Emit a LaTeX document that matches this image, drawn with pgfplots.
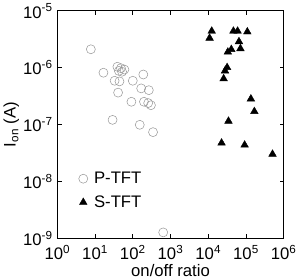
\documentclass[border=0pt]{standalone}
\usepackage{pgfplots}
\pgfplotsset{compat=1.18}
\usepackage{fontspec}
\setmainfont{Liberation Sans}
\begin{document}
\begin{tikzpicture}
\begin{axis}[
  scale only axis,
  width=216bp, height=217bp,
  xmode=log, ymode=log,
  xmin=1, xmax=1e6, ymin=1e-9, ymax=1e-5,
  axis line style={line width=1.1pt},
  tick style={line width=0.9pt, black},
  major tick length=4bp,
  minor tick num=0,
  xminorticks=false, yminorticks=false,
  xtick={1,10,100,1000,10000,100000,1000000},
  xticklabels={10\textsuperscript{0},10\textsuperscript{1},10\textsuperscript{2},10\textsuperscript{3},10\textsuperscript{4},10\textsuperscript{5},10\textsuperscript{6}},
  ytick={1e-9,1e-8,1e-7,1e-6,1e-5},
  yticklabels={10\textsuperscript{-9},10\textsuperscript{-8},10\textsuperscript{-7},10\textsuperscript{-6},10\textsuperscript{-5}},
  tick label style={font=\fontsize{16}{18}\selectfont},
  xticklabel style={yshift=-3bp},
  yticklabel style={xshift=-1bp},
  label style={font=\fontsize{16}{18}\selectfont},
  xlabel={on/off ratio},
  xlabel style={yshift=3bp},
  ylabel={I\textsubscript{on} (A)},
  ylabel style={yshift=-3bp},
  legend style={draw=none, fill=none, at={(0.08,0.31)}, anchor=north west, font=\fontsize{16}{18}\selectfont, row sep=6bp, nodes={inner xsep=6bp}},
  legend cell align=left,
]
\addplot[only marks, mark=o, mark size=4.3bp, gray!80, mark options={line width=0.5pt}] coordinates {
(7.74,2.11e-6) (16.7,8.17e-7) (39.1,1.04e-6) (48.5,9.82e-7) (60.0,9.29e-7) (42.8,8.79e-7)
(33.0,5.90e-7) (44.4,5.75e-7) (40.8,3.65e-7) (100,5.90e-7) (190,7.60e-7) (167,4.33e-7)
(266,4.03e-7) (92.0,2.52e-7) (198,2.52e-7) (256,2.39e-7) (303,2.19e-7) (29.1,1.21e-7)
(153,9.91e-8) (344,7.36e-8) (640,1.27e-9) (52,8.5e-7)
};
\addlegendentry{P-TFT}
\addplot[only marks, mark=triangle*, mark size=4.2bp, black] coordinates {
(12360,4.41e-6) (10860,3.32e-6) (46450,4.41e-6) (59980,4.41e-6) (108600,4.28e-6)
(65160,2.88e-6) (71290,2.17e-6) (40830,2.10e-6) (33040,1.89e-6) (31620,1.01e-6)
(27800,8.79e-7) (25590,6.41e-7) (134900,2.83e-7) (166700,1.70e-7) (34360,1.15e-7)
(22540,4.75e-8) (92040,4.37e-8) (504700,3.02e-8)
};
\addlegendentry{S-TFT}
\end{axis}
\end{tikzpicture}
\end{document}
